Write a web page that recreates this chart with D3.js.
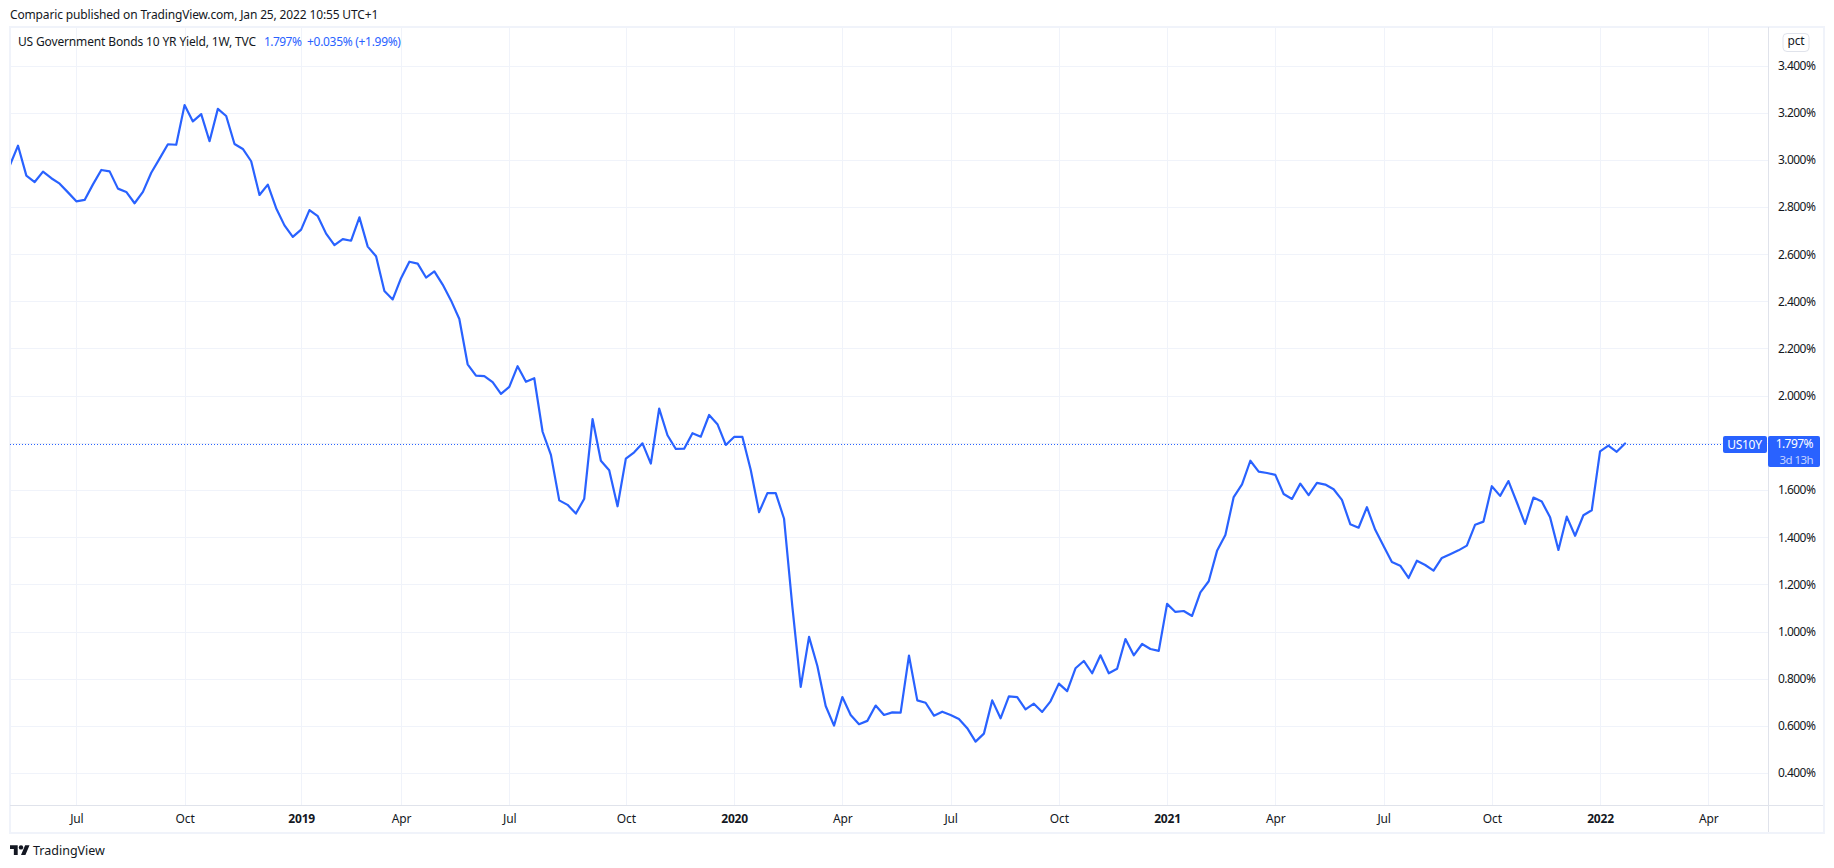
<!DOCTYPE html>
<html lang="en">
<head>
    <meta charset="UTF-8">
    <title>US10Y weekly</title>
    <script src="https://d3js.org/d3.v7.min.js"></script>
    <style>
        html, body { margin: 0; padding: 0; background: #fff; }
        svg { display: block; }
        text { font-family: "Noto Sans", sans-serif; font-size: 12px; fill: #131722; letter-spacing: -0.15px; }
        .num { letter-spacing: -0.55px; }
    </style>
</head>
<body>
    <script>
        // Weekly closes, first bar is the week of 7 May 2018
        const yields = [
            2.975, 3.060, 2.933, 2.906, 2.950, 2.922, 2.899, 2.862, 2.824, 2.830,
            2.896, 2.957, 2.951, 2.878, 2.864, 2.816, 2.864, 2.945, 3.005, 3.066,
            3.064, 3.232, 3.163, 3.194, 3.079, 3.216, 3.186, 3.067, 3.046, 2.994,
            2.851, 2.895, 2.795, 2.722, 2.673, 2.704, 2.787, 2.761, 2.687, 2.638,
            2.664, 2.657, 2.756, 2.632, 2.591, 2.444, 2.408, 2.498, 2.568, 2.560,
            2.501, 2.527, 2.471, 2.404, 2.325, 2.133, 2.085, 2.083, 2.057, 2.008,
            2.037, 2.125, 2.059, 2.074, 1.847, 1.749, 1.556, 1.537, 1.500, 1.563,
            1.901, 1.724, 1.684, 1.531, 1.733, 1.760, 1.798, 1.712, 1.945, 1.832,
            1.774, 1.775, 1.841, 1.826, 1.918, 1.879, 1.791, 1.825, 1.825, 1.685,
            1.506, 1.587, 1.587, 1.478, 1.104, 0.765, 0.977, 0.854, 0.684, 0.601,
            0.722, 0.646, 0.607, 0.621, 0.686, 0.646, 0.657, 0.656, 0.898, 0.708,
            0.698, 0.643, 0.660, 0.646, 0.629, 0.590, 0.533, 0.567, 0.708, 0.632,
            0.725, 0.722, 0.670, 0.694, 0.659, 0.704, 0.779, 0.747, 0.844, 0.875,
            0.823, 0.899, 0.823, 0.842, 0.968, 0.899, 0.947, 0.926, 0.918, 1.117,
            1.083, 1.087, 1.066, 1.166, 1.213, 1.342, 1.409, 1.570, 1.624, 1.724,
            1.678, 1.672, 1.664, 1.583, 1.562, 1.627, 1.578, 1.630, 1.623, 1.603,
            1.558, 1.455, 1.440, 1.527, 1.431, 1.363, 1.295, 1.279, 1.227, 1.300,
            1.282, 1.258, 1.312, 1.328, 1.344, 1.364, 1.453, 1.466, 1.616, 1.575,
            1.638, 1.548, 1.456, 1.568, 1.551, 1.484, 1.346, 1.487, 1.406, 1.493,
            1.514, 1.764, 1.788, 1.762, 1.797
        ];
        const firstWeek = new Date(Date.UTC(2018, 4, 7));
        const weeks = yields.map((v, i) => d3.utcWeek.offset(firstWeek, i));

        const priceTicks = [3.4, 3.2, 3.0, 2.8, 2.6, 2.4, 2.2, 2.0, 1.8, 1.6, 1.4, 1.2, 1.0, 0.8, 0.6, 0.4];
        const timeTicks = ["2018-07-02", "2018-10-01", "2019-01-07", "2019-04-01", "2019-07-01", "2019-10-07",
            "2020-01-06", "2020-04-06", "2020-07-06", "2020-10-05", "2021-01-04", "2021-04-05",
            "2021-07-05", "2021-10-04", "2022-01-03", "2022-04-04"].map(d => new Date(d + "T00:00:00Z"));
        const timeLabels = ["Jul", "Oct", "2019", "Apr", "Jul", "Oct", "2020", "Apr", "Jul", "Oct", "2021", "Apr", "Jul", "Oct", "2022", "Apr"];

        const lastClose = 1.797;
        const title = "Comparic published on TradingView.com, Jan 25, 2022 10:55 UTC+1";
        const seriesName = "US Government Bonds 10 YR Yield, 1W, TVC";

        const width = 1834, height = 868;
        const blue = "#2962ff", gridColor = "#f0f3fa", axisColor = "#e0e3eb";
        const left = 10, top_ = 27, right = 1824, bottom = 833, paneRight = 1768.5, paneBottom = 805.5;

        const svg = d3.select("body").append("svg").attr("width", width).attr("height", height);

        const x = d3.scaleUtc()
            .domain([firstWeek, timeTicks[timeTicks.length - 1]])
            .range([9.7, 1708.3]);
        const y = d3.scaleLinear().domain([3.4, 0.4]).range([65.5, 773]);

        // grid
        svg.append("g").selectAll("line").data(priceTicks).enter().append("line")
            .attr("x1", left).attr("x2", paneRight)
            .attr("y1", d => Math.round(y(d)) + 0.5).attr("y2", d => Math.round(y(d)) + 0.5)
            .attr("stroke", gridColor);
        svg.append("g").selectAll("line").data(timeTicks).enter().append("line")
            .attr("x1", d => Math.round(x(d)) + 0.5).attr("x2", d => Math.round(x(d)) + 0.5)
            .attr("y1", top_).attr("y2", paneBottom)
            .attr("stroke", gridColor);

        // frame and axis borders
        svg.append("rect").attr("x", left).attr("y", top_)
            .attr("width", right - left).attr("height", bottom - top_)
            .attr("fill", "none").attr("stroke", gridColor).attr("stroke-width", 2);
        svg.append("line").attr("x1", left).attr("x2", right - 1).attr("y1", paneBottom).attr("y2", paneBottom).attr("stroke", axisColor);
        svg.append("line").attr("x1", paneRight).attr("x2", paneRight).attr("y1", top_).attr("y2", bottom - 1).attr("stroke", axisColor);

        // last price line
        svg.append("line")
            .attr("x1", left).attr("x2", 1723)
            .attr("y1", Math.round(y(lastClose)) + 0.5).attr("y2", Math.round(y(lastClose)) + 0.5)
            .attr("stroke", blue).attr("stroke-dasharray", "1 2");

        // series line
        svg.append("clipPath").attr("id", "pane").append("rect")
            .attr("x", left + 1).attr("y", top_).attr("width", paneRight - left - 1).attr("height", paneBottom - top_);
        svg.append("path").datum(yields)
            .attr("clip-path", "url(#pane)")
            .attr("fill", "none").attr("stroke", blue).attr("stroke-width", 2.2)
            .attr("stroke-linejoin", "round").attr("stroke-linecap", "round")
            .attr("d", d3.line().x((d, i) => x(weeks[i])).y(d => y(d)));

        // axes
        const priceAxis = svg.append("g")
            .attr("transform", "translate(1778,0)")
            .call(d3.axisRight(y).tickValues(priceTicks).tickSize(0).tickPadding(0).tickFormat(d => d.toFixed(3) + "%"));
        const timeAxis = svg.append("g")
            .attr("transform", "translate(0,814)")
            .call(d3.axisBottom(x).tickValues(timeTicks).tickSize(0).tickPadding(0).tickFormat((d, i) => timeLabels[i]));
        priceAxis.select(".domain").remove();
        timeAxis.select(".domain").remove();
        priceAxis.selectAll("text").attr("class", "num").style("font-size", "12px");
        timeAxis.selectAll("text")
            .style("font-size", "12px")
            .style("font-weight", (d, i) => /^\d/.test(timeLabels[i]) ? 700 : 400);

        // header texts
        svg.append("text").attr("x", 10).attr("y", 19).text(title);
        svg.append("text").attr("x", 18).attr("y", 46).text(seriesName);
        svg.append("text").attr("x", 264).attr("y", 46).attr("class", "num").style("fill", blue).text(lastClose.toFixed(3) + "%");
        svg.append("text").attr("x", 307).attr("y", 46).style("fill", blue).style("letter-spacing", "-0.3px").text("+0.035% (+1.99%)");

        // pct button
        svg.append("rect").attr("x", 1783).attr("y", 33.5).attr("width", 26).attr("height", 18).attr("rx", 4)
            .attr("fill", "#fff").attr("stroke", axisColor);
        svg.append("text").attr("x", 1796).attr("y", 45).attr("text-anchor", "middle").text("pct");

        // price labels on the axis
        svg.append("rect").attr("x", 1723).attr("y", 436).attr("width", 44).attr("height", 17).attr("rx", 2).attr("fill", blue);
        svg.append("text").attr("x", 1744.5).attr("y", 448.5).attr("text-anchor", "middle").style("fill", "#fff").style("letter-spacing", "-0.3px").text("US10Y");
        svg.append("rect").attr("x", 1768).attr("y", 436).attr("width", 52).attr("height", 31).attr("rx", 2).attr("fill", blue);
        svg.append("text").attr("x", 1813).attr("y", 448).attr("text-anchor", "end").attr("class", "num").style("fill", "#fff").text("1.797%");
        svg.append("text").attr("x", 1813).attr("y", 464).attr("text-anchor", "end").attr("class", "num").style("fill", "#c3d3ff").style("font-size", "11.5px").text("3d 13h");

        // logo
        const logo = svg.append("g").attr("transform", "translate(10,843) scale(0.55)").attr("fill", "#131722");
        logo.append("path").attr("d", "M14 22H7V11H0V4h14v18zM28 22h-8l7.5-18h8L28 22z");
        logo.append("circle").attr("cx", 20).attr("cy", 8).attr("r", 4);
        svg.append("text").attr("x", 33).attr("y", 855).style("font-size", "12.5px").style("letter-spacing", "0").text("TradingView");
    </script>
</body>
</html>
